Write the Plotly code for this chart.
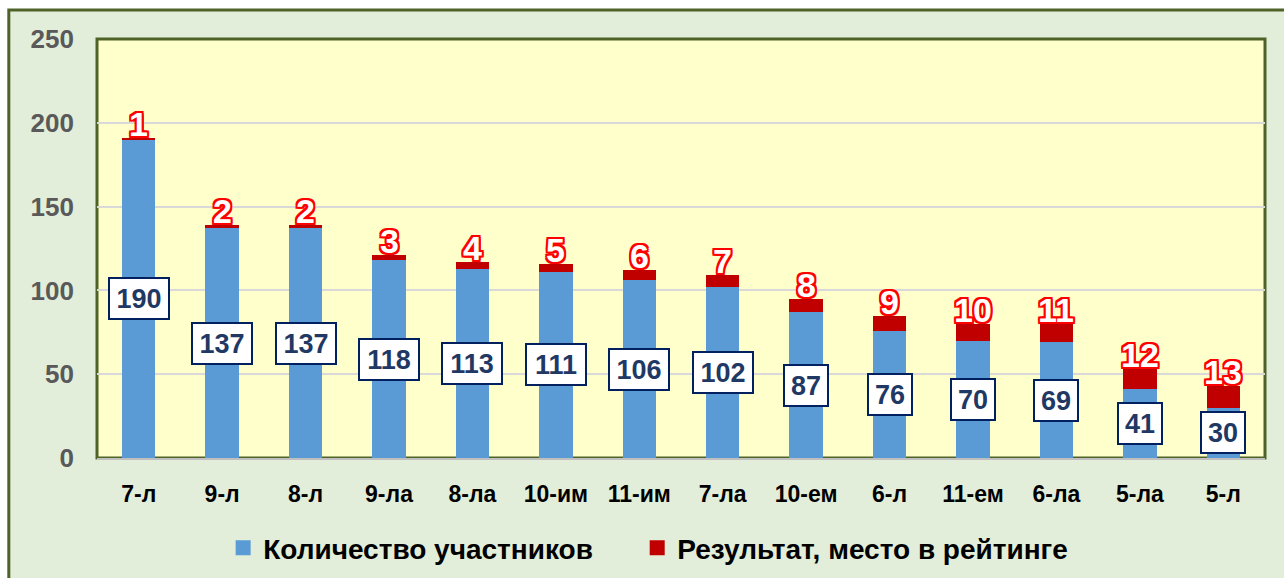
import plotly.graph_objects as go

categories = ["7-л", "9-л", "8-л", "9-ла", "8-ла", "10-им", "11-им", "7-ла",
              "10-ем", "6-л", "11-ем", "6-ла", "5-ла", "5-л"]
participants = [190, 137, 137, 118, 113, 111, 106, 102, 87, 76, 70, 69, 41, 30]
rank = [1, 2, 2, 3, 4, 5, 6, 7, 8, 9, 10, 11, 12, 13]
y_ticks = [0, 50, 100, 150, 200, 250]

BLUE = "#5b9bd5"
RED = "#c00000"
GREEN_LINE = "#4f6228"
OUTER_BG = "#e2eed9"
PLOT_BG = "#ffffcc"
FONT = "Liberation Sans, Arial, sans-serif"
NAME_P = "Количество участников"
NAME_R = "Результат, место в рейтинге"

fig = go.Figure()
fig.add_trace(go.Bar(x=categories, y=participants, name=NAME_P, showlegend=False,
                     marker=dict(color=BLUE, line=dict(width=0)), width=0.4))
fig.add_trace(go.Bar(x=categories, y=rank, name=NAME_R, showlegend=False,
                     marker=dict(color=RED, line=dict(width=0)), width=0.4))
# legend entries with larger square swatches
fig.add_trace(go.Scatter(x=[None], y=[None], mode="markers", name=NAME_P, legend="legend",
                         marker=dict(symbol="square", size=15, color=BLUE)))
fig.add_trace(go.Scatter(x=[None], y=[None], mode="markers", name=NAME_R, legend="legend2",
                         marker=dict(symbol="square", size=15, color=RED)))

outline = ", ".join(f"{dx}px {dy}px 0 #ff0000" for dx, dy in
                    [(-2, -2), (2, -2), (-2, 2), (2, 2), (0, 2), (0, -2), (2, 0), (-2, 0)])

annotations = []
for c, v, r in zip(categories, participants, rank):
    annotations.append(dict(
        x=c, y=v / 2, xref="x", yref="y", text=f"<b>{v}</b>", showarrow=False,
        font=dict(family=FONT, size=27, color="#1f3864"),
        bgcolor="white", bordercolor="#002060", borderwidth=2, borderpad=3,
        width=52 if v >= 100 else 36, height=33, align="center", valign="middle"))
    annotations.append(dict(
        x=c, y=v + r, xref="x", yref="y", text=f"<b>{r}</b>", showarrow=False,
        yanchor="bottom", yshift=-7,
        font=dict(family=FONT, size=34, color="white", shadow=outline)))

shapes = [
    dict(type="rect", xref="paper", yref="paper", x0=-0.0755, x1=1.2, y0=1.0692, y1=-0.5,
         fillcolor=OUTER_BG, line=dict(color=GREEN_LINE, width=3), layer="below"),
    dict(type="rect", xref="paper", yref="paper", x0=0, x1=1, y0=0, y1=1,
         fillcolor=PLOT_BG, line=dict(color=GREEN_LINE, width=3), layer="below"),
]

legend_font = dict(family=FONT, size=28, color="black", weight="bold")
fig.update_layout(
    width=1284, height=578,
    margin=dict(l=97, r=19, t=39, b=120, autoexpand=False),
    barmode="stack",
    paper_bgcolor="white",
    plot_bgcolor="rgba(0,0,0,0)",
    shapes=shapes,
    annotations=annotations,
    font=dict(family=FONT),
    showlegend=True,
    legend=dict(orientation="h", x=0.108, xanchor="left", y=-0.215, yanchor="middle",
                bgcolor="rgba(0,0,0,0)", font=legend_font),
    legend2=dict(orientation="h", x=0.4625, xanchor="left", y=-0.215, yanchor="middle",
                 bgcolor="rgba(0,0,0,0)", font=legend_font),
    xaxis=dict(showgrid=False, showline=True, linecolor="#bfbfbf", linewidth=2,
               tickfont=dict(family=FONT, size=23, color="black", weight="bold"),
               ticklabelstandoff=14, ticks=""),
    yaxis=dict(range=[0, 250], tickvals=y_ticks, showgrid=True, gridcolor="#d9d9d9",
               gridwidth=2, zeroline=False, showline=False,
               tickfont=dict(family=FONT, size=26, color="#595959", weight="bold"),
               ticklabelstandoff=22, ticks=""),
)

fig.write_html("out.html", config={"displayModeBar": False},
               post_script="document.body.style.margin='0';document.body.style.padding='0';")
